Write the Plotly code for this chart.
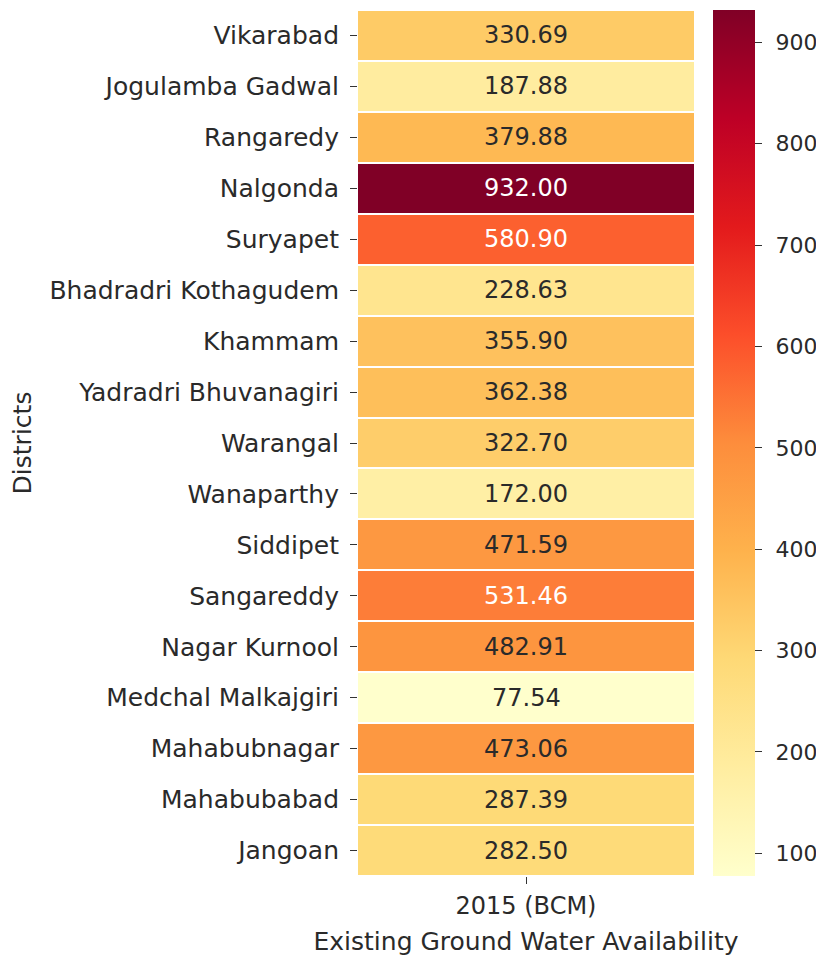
import plotly.graph_objects as go

districts = ["Vikarabad", "Jogulamba Gadwal", "Rangaredy", "Nalgonda", "Suryapet",
             "Bhadradri Kothagudem", "Khammam", "Yadradri Bhuvanagiri", "Warangal",
             "Wanaparthy", "Siddipet", "Sangareddy", "Nagar Kurnool", "Medchal Malkajgiri",
             "Mahabubnagar", "Mahabubabad", "Jangoan"]
values = [330.69, 187.88, 379.88, 932.00, 580.90, 228.63, 355.90, 362.38, 322.70,
          172.00, 471.59, 531.46, 482.91, 77.54, 473.06, 287.39, 282.50]
column = "2015 (BCM)"
cbar_ticks = [100, 200, 300, 400, 500, 600, 700, 800, 900]

ylorrd = ["#ffffcc", "#ffeda0", "#fed976", "#feb24c", "#fd8d3c",
          "#fc4e2a", "#e31a1c", "#bd0026", "#800026"]
colorscale = [[i / (len(ylorrd) - 1), c] for i, c in enumerate(ylorrd)]

zmin, zmax = min(values), max(values)


def hex2rgb(h):
    h = h.lstrip("#")
    return [int(h[i:i + 2], 16) / 255 for i in (0, 2, 4)]


def cmap(t):
    t = max(0.0, min(1.0, t))
    pos = t * (len(ylorrd) - 1)
    i = min(int(pos), len(ylorrd) - 2)
    f = pos - i
    a, b = hex2rgb(ylorrd[i]), hex2rgb(ylorrd[i + 1])
    return [a[k] + (b[k] - a[k]) * f for k in range(3)]


def lum(rgb):
    out = []
    for c in rgb:
        out.append(c / 12.92 if c <= 0.03928 else ((c + 0.055) / 1.055) ** 2.4)
    return 0.2126 * out[0] + 0.7152 * out[1] + 0.0722 * out[2]


FONT = "DejaVu Sans"
FS = 25
FS_SMALL = 24
FS_CBAR = 22
TXT = "#2a2a2a"

# invisible spacer to push colorbar labels away from their tick marks
spacer = '<span style="font-size:15px;color:rgba(0,0,0,0)">0</span>'
cbar_text = [spacer + str(t) for t in cbar_ticks]

fig = go.Figure()
fig.add_trace(go.Heatmap(
    z=[[v] for v in values], x=[column], y=districts,
    colorscale=colorscale, zmin=zmin, zmax=zmax,
    xgap=0, ygap=2, hoverinfo="skip",
    colorbar=dict(
        x=1.057, xanchor="left", xref="paper", y=0.5, yanchor="middle",
        len=1.0, lenmode="fraction", thickness=42, ypad=0, xpad=0,
        outlinewidth=0, tickmode="array", tickvals=cbar_ticks, ticktext=cbar_text,
        ticks="outside", ticklen=7, tickwidth=1.3, tickcolor="#333",
        tickfont=dict(family=FONT, size=FS_CBAR, color=TXT),
    ),
))

for d, v in zip(districts, values):
    t = (v - zmin) / (zmax - zmin)
    col = "white" if lum(cmap(t)) < 0.408 else TXT
    fig.add_annotation(x=column, y=d, text=f"{v:.2f}", showarrow=False,
                       font=dict(family=FONT, size=FS_SMALL, color=col))

fig.update_layout(
    width=816, height=948,
    margin=dict(l=350, r=130, t=2, b=80, autoexpand=False),
    plot_bgcolor="white", paper_bgcolor="white",
    font=dict(family=FONT, size=FS, color=TXT),
    xaxis=dict(showgrid=False, zeroline=False, ticks="outside", ticklen=7,
               tickwidth=1.3, tickcolor="#333", ticklabelstandoff=1, automargin=False,
               tickfont=dict(family=FONT, size=FS_SMALL, color=TXT),
               title=dict(text="Existing Ground Water Availability", standoff=13,
                          font=dict(family=FONT, size=FS, color=TXT))),
    yaxis=dict(showgrid=False, zeroline=False, autorange="reversed", ticks="outside",
               ticklen=7, tickwidth=1.3, tickcolor="#333", ticklabelstandoff=6,
               automargin=False,
               tickfont=dict(family=FONT, size=FS, color=TXT),
               title=dict(text="Districts", standoff=10,
                          font=dict(family=FONT, size=FS, color=TXT))),
)

fig.write_html("out.html")
